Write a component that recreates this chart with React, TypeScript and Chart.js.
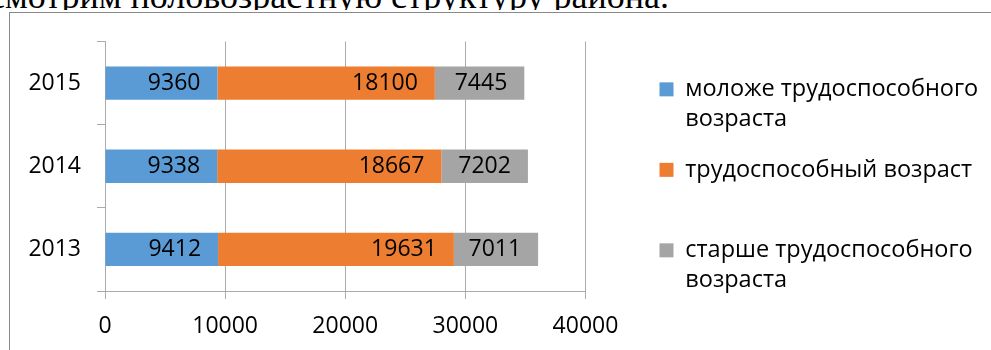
import React, { useEffect, useRef } from 'react';
import { Chart, registerables } from 'chart.js';

Chart.register(...registerables);

const years = ['2013', '2014', '2015'];
const youngerValues = [9412, 9338, 9360];
const workingValues = [19631, 18667, 18100];
const olderValues = [7011, 7202, 7445];
const seriesNames = [
  'моложе трудоспособного возраста',
  'трудоспособный возраст',
  'старше трудоспособного возраста',
];
const legendLines = [
  ['моложе трудоспособного', 'возраста'],
  ['трудоспособный возраст', ''],
  ['старше трудоспособного', 'возраста'],
];
const xTicks = [0, 10000, 20000, 30000, 40000];

const FONT = '"Open Sans", "Noto Sans", sans-serif';
const GRID = '#ababab';
const COLORS = ['#5B9BD5', '#ED7D31', '#A5A5A5'];
const LABEL_INSET = 17;
const LEGEND_GAP = 50;
const LEGEND_PAD = 21.5;
const LEGEND_TOP = 64.6 - LEGEND_PAD;
const LEGEND_FONT = 23.5;
const LEGEND_LINE = 29.5;

const barValueLabels = {
  id: 'barValueLabels',
  afterDatasetsDraw(chart: any) {
    const ctx = chart.ctx;
    ctx.save();
    ctx.font = `23px ${FONT}`;
    ctx.fillStyle = '#000';
    ctx.textAlign = 'right';
    ctx.textBaseline = 'middle';
    chart.data.datasets.forEach((ds: any, di: number) => {
      const meta = chart.getDatasetMeta(di);
      meta.data.forEach((bar: any, i: number) => {
        ctx.fillText(String(ds.data[i]), bar.x - LABEL_INSET, bar.y);
      });
    });
    ctx.restore();
  },
};

const legendPlace = {
  id: 'legendPlace',
  afterLayout(chart: any) {
    const lg = chart.legend;
    if (!lg) return;
    const left = chart.chartArea.right + LEGEND_GAP + 24 - LEGEND_PAD;
    lg.left = left;
    lg.right = chart.width;
    lg.width = lg.right - lg.left;
    lg.top = LEGEND_TOP;
    lg.bottom = chart.height;
    lg.height = lg.bottom - lg.top;
  },
};

export default function App() {
  const ref = useRef<HTMLCanvasElement>(null);

  useEffect(() => {
    const datasets = [youngerValues, workingValues, olderValues].map((vals, i) => ({
      label: seriesNames[i],
      data: vals,
      backgroundColor: COLORS[i],
      borderWidth: 0,
      categoryPercentage: 1,
      barPercentage: 0.4,
    }));

    const chart = new Chart(ref.current as HTMLCanvasElement, {
      type: 'bar',
      data: { labels: years, datasets },
      options: {
        indexAxis: 'y',
        animation: false,
        responsive: false,
        layout: { padding: { top: 28.5, right: 205.5, bottom: 0, left: 0 } },
        scales: {
          x: {
            stacked: true,
            min: 0,
            max: 40000,
            afterBuildTicks: (s: any) => {
              s.ticks = xTicks.map((v) => ({ value: v }));
            },
            ticks: {
              color: '#000',
              font: { family: FONT, size: 23 },
              padding: 14,
              maxRotation: 0,
              callback: (v: any) => String(v),
            },
            grid: { color: GRID, tickLength: 8 },
            border: { color: GRID },
            afterFit: (s: any) => {
              s.height = 59;
            },
          },
          y: {
            stacked: true,
            reverse: true,
            ticks: {
              color: '#000',
              font: { family: FONT, size: 23 },
              padding: 16,
            },
            grid: { offset: true, drawOnChartArea: false, tickLength: 8, color: GRID },
            border: { color: GRID },
            afterFit: (s: any) => {
              s.width = 95;
              s.paddingTop = 0;
              s.paddingBottom = 0;
            },
          },
        },
        plugins: {
          tooltip: { enabled: false },
          legend: {
            position: 'right',
            align: 'start',
            maxWidth: 200,
            labels: {
              boxWidth: 14,
              boxHeight: 14,
              padding: LEGEND_PAD,
              color: '#000',
              font: { family: FONT, size: LEGEND_FONT, lineHeight: LEGEND_LINE / LEGEND_FONT },
              generateLabels: (c: any) => {
                const items = (Chart.defaults.plugins.legend.labels as any).generateLabels(c);
                return items.map((it: any, i: number) => ({ ...it, text: legendLines[i], lineWidth: 0 }));
              },
            },
          },
        },
      } as any,
      plugins: [barValueLabels, legendPlace],
    });
    return () => chart.destroy();
  }, []);

  return (
    <div
      style={{
        position: 'fixed',
        left: 0,
        top: 0,
        width: 991,
        height: 350,
        overflow: 'hidden',
        background: '#fff',
      }}
    >
      <div
        style={{
          position: 'absolute',
          left: -63,
          top: -21.8,
          font: '36px "Liberation Serif", "Times New Roman", serif',
          lineHeight: '36px',
          whiteSpace: 'nowrap',
          color: '#000',
        }}
      >
        Рассмотрим половозрастную структуру района.
      </div>
      <div style={{ position: 'absolute', left: 0, top: 10, width: 991, height: 340, background: '#fff' }}>
        <div
          style={{
            position: 'absolute',
            left: 9,
            top: 2,
            width: 1000,
            height: 400,
            border: '1px solid #8a8a8a',
            boxSizing: 'border-box',
          }}
        >
          <canvas ref={ref} width={981} height={337} style={{ display: 'block', width: 981, height: 337 }} />
        </div>
      </div>
    </div>
  );
}
